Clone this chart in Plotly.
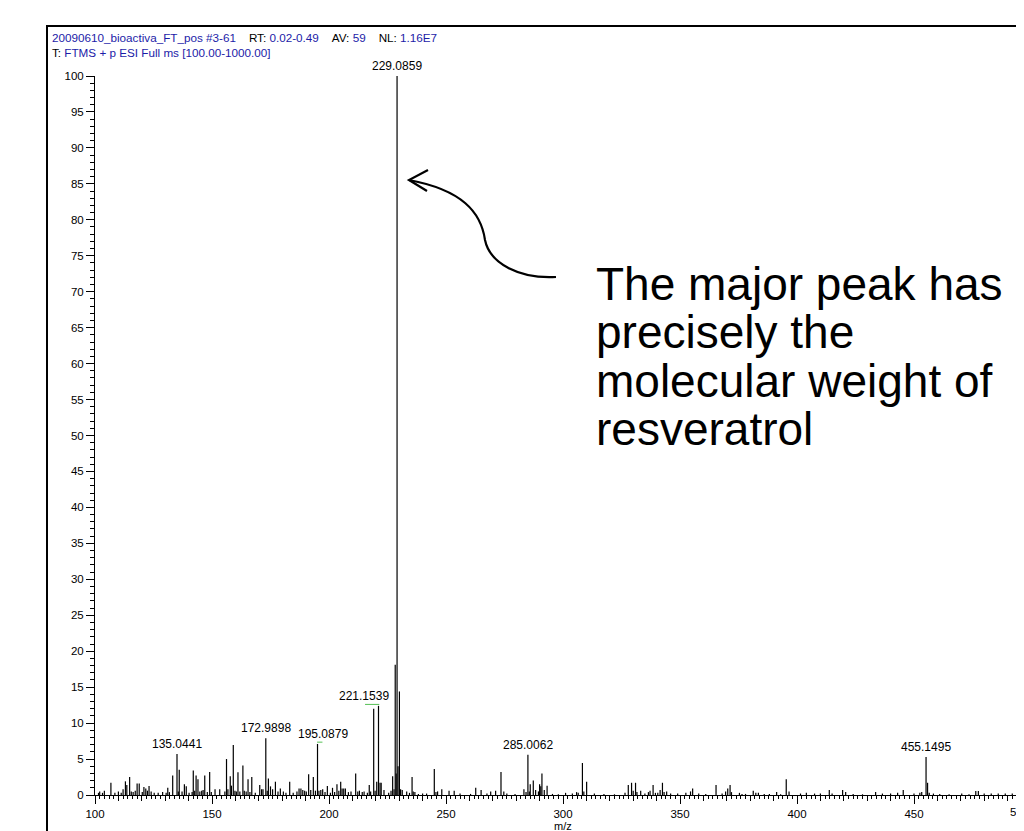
import plotly.graph_objects as go

# peak list (m/z, relative abundance %)
mz = [101.5, 102.0, 103.2, 104.0, 106.8, 108.5, 110.0, 111.2, 112.0, 113.0,
      113.6, 114.8, 115.5, 116.3, 117.2, 118.0, 118.9, 120.2, 120.9, 121.7,
      122.4, 123.1, 124.0, 125.3, 127.0, 128.9, 130.4, 131.1, 131.8, 133.2,
      135.0441, 135.6, 136.0, 137.2, 138.2, 139.0, 140.2, 141.5, 142.0, 142.6,
      143.2, 144.0, 144.8, 145.6, 146.2, 146.9, 148.0, 149.0, 149.7, 151.3,
      153.3, 155.5, 156.2, 156.8, 157.8, 158.3, 159.1, 159.8, 160.4, 161.1,
      161.9, 163.2, 163.8, 164.6, 165.4, 166.2, 167.0, 168.5, 170.4, 171.2,
      171.8, 172.9898, 173.6, 174.1, 175.0, 175.9, 177.1, 178.2, 179.2, 180.5,
      181.6, 183.2, 184.7, 186.3, 187.2, 188.0, 188.8, 189.6, 190.3, 191.3,
      192.2, 193.3, 194.2, 195.0879, 195.7, 196.5, 197.3, 198.3, 199.3, 200.6,
      201.5, 202.4, 203.4, 204.2, 205.0, 205.6, 206.3, 207.0, 208.3, 209.4,
      211.4, 212.3, 213.0, 214.2, 215.0, 216.4, 217.2, 217.8, 219.1, 219.7,
      220.4, 221.1539, 221.8, 222.3, 223.5, 225.5, 226.5, 227.2, 227.8, 228.3,
      228.7, 229.0859, 229.5, 230.1, 230.6, 231.3, 233.2, 234.4, 235.5, 236.0,
      236.7, 238.2, 240.0, 241.7, 245.0, 245.7, 246.4, 248.2, 251.3, 253.5,
      256.0, 260.5, 262.7, 265.0, 267.5, 269.1, 271.2, 273.5, 274.7, 276.0,
      279.5, 283.3, 284.2, 285.0062, 285.6, 286.0, 287.3, 288.3, 289.5, 290.0,
      290.5, 291.0, 292.0, 293.2, 295.5, 298.0, 301.1, 304.0, 305.8, 306.5,
      308.3, 308.9, 310.1, 313.4, 317.5, 322.0, 326.5, 327.9, 329.3, 330.0,
      331.0, 331.6, 333.2, 335.0, 336.5, 337.2, 338.5, 339.5, 340.5, 341.5,
      342.5, 343.2, 344.3, 346.0, 349.0, 352.5, 354.5, 355.4, 358.0, 361.0,
      365.4, 368.0, 369.5, 370.4, 371.4, 372.0, 375.4, 376.5, 378.0, 381.3,
      382.4, 383.5, 386.0, 388.2, 391.3, 393.0, 395.4, 396.6, 401.5, 404.0,
      407.5, 410.0, 413.8, 415.0, 419.5, 420.8, 424.0, 428.0, 433.6, 436.5,
      440.0, 443.0, 445.4, 450.0, 452.5, 453.3, 455.1495, 455.8, 456.5, 458.3,
      461.0, 465.0, 470.4, 473.5, 476.4, 477.5, 480.0, 483.0, 486.0, 489.0,
      492.0, 495.3]
intensity = [0.3, 0.5, 0.3, 0.6, 1.7, 0.3, 0.5, 0.3, 0.8, 1.9,
             1.4, 2.5, 0.5, 0.4, 0.6, 1.6, 1.6, 0.4, 1.1, 0.9,
             0.6, 1.25, 0.5, 0.3, 0.3, 0.4, 0.3, 1.0, 0.4, 2.7,
             5.7, 0.5, 3.5, 0.5, 1.5, 1.2, 0.3, 0.4, 3.4, 0.6,
             2.7, 2.2, 0.5, 0.6, 0.7, 2.7, 0.4, 3.2, 0.4, 0.8,
             0.8, 0.5, 5.0, 0.8, 2.6, 1.3, 6.95, 0.6, 0.5, 3.15,
             0.5, 4.1, 0.6, 0.5, 2.2, 0.4, 2.5, 0.3, 1.4, 0.8,
             0.8, 7.9, 0.6, 2.3, 1.2, 0.8, 1.85, 0.5, 0.9, 0.5,
             0.3, 1.85, 0.3, 0.5, 0.9, 0.9, 0.7, 0.6, 0.5, 2.9,
             0.7, 2.5, 0.6, 7.1, 0.6, 0.7, 0.8, 0.4, 1.25, 0.3,
             1.0, 0.4, 1.5, 0.6, 1.85, 0.9, 0.9, 0.9, 0.4, 0.5,
             3.0, 0.5, 0.6, 0.4, 0.5, 0.3, 1.4, 0.5, 12.0, 0.6,
             1.85, 12.4, 1.7, 1.7, 0.7, 0.3, 0.6, 2.6, 0.8, 18.1,
             3.0, 100.0, 4.0, 14.4, 0.8, 0.7, 0.5, 0.3, 2.5, 0.5,
             0.4, 0.15, 0.2, 0.2, 3.6, 0.4, 0.5, 0.8, 0.6, 0.6,
             0.2, 0.15, 1.0, 0.7, 0.2, 0.5, 0.6, 3.2, 0.5, 0.2,
             0.15, 0.8, 0.4, 5.6, 0.5, 1.5, 2.0, 0.7, 0.5, 1.5,
             1.2, 3.0, 0.7, 1.3, 0.15, 0.1, 0.3, 0.2, 0.4, 0.3,
             4.45, 0.5, 1.85, 0.2, 0.15, 0.1, 0.3, 1.4, 1.7, 0.6,
             1.7, 0.4, 0.6, 0.2, 0.4, 0.6, 1.4, 0.3, 0.3, 0.7,
             1.7, 0.4, 0.5, 0.2, 0.2, 0.3, 0.5, 0.9, 0.2, 0.15,
             1.4, 0.2, 0.5, 0.9, 1.4, 0.4, 0.3, 0.15, 0.15, 0.6,
             0.3, 0.3, 0.15, 0.15, 0.4, 0.1, 2.2, 0.5, 0.2, 0.3,
             0.2, 0.2, 0.7, 0.2, 0.7, 0.4, 0.15, 0.1, 0.4, 0.2,
             0.2, 0.3, 0.7, 0.2, 0.3, 0.4, 5.3, 1.7, 0.3, 0.2,
             0.15, 0.1, 0.2, 0.1, 0.55, 0.55, 0.2, 0.2, 0.2, 0.2,
             0.2, 0.7]

# labelled peaks
label_mz = [135.0441, 172.9898, 195.0879, 221.1539, 229.0859, 285.0062, 455.1495]
label_int = [5.7, 7.9, 7.1, 12.4, 100.0, 5.6, 5.3]

header_1 = ("20090610_bioactiva_FT_pos #3-61", "0.02-0.49", "59", "1.16E7")
header_2 = "FTMS + p ESI Full ms [100.00-1000.00]"
note_lines = ["The major peak has", "precisely the", "molecular weight of", "resveratrol"]

# layout geometry; page coordinates are shifted by the 8px body margin
OFF = 8
W, H = 1024 - OFF, 831 - OFF
L, T, B = 95 - OFF, 76 - OFF, 795 - OFF
PW, PH = W - L, B - T
PX_PER_MZ = 2.34
FONT = "Liberation Sans, Arial, sans-serif"
BLUE = "#1c1ca8"


def px(x):
    return (x - OFF - L) / PW


def py(y):
    return (B - (y - OFF)) / PH


# sticks
sx, sy = [], []
for m, i in zip(mz, intensity):
    sx += [m, m, None]
    sy += [0, i, None]

fig = go.Figure()
fig.add_trace(go.Scatter(x=sx, y=sy, mode='lines', line=dict(color='black', width=1.2),
                         hoverinfo='skip', showlegend=False))
# helper trace so the fine tick axis is drawn
fig.add_trace(go.Scatter(x=[label_mz[0]], y=[0], xaxis='x2', mode='markers',
                         marker=dict(opacity=0), hoverinfo='skip', showlegend=False))

xmax = 100 + PW / PX_PER_MZ
label_xshift = {195.0879: 5, 221.1539: -15}
for m, i in zip(label_mz, label_int):
    fig.add_annotation(x=m, y=i, xref='x', yref='y', text=f"{m:.4f}", showarrow=False,
                       yanchor='bottom', yshift=1, xshift=label_xshift.get(m, 0),
                       font=dict(family=FONT, size=12, color='black'))
# "500" tick label, only partly on the page
fig.add_annotation(x=(500 - 100) * PX_PER_MZ / PW, y=0, xref='paper', yref='paper',
                   text="500", showarrow=False, yanchor='top', yshift=-9,
                   font=dict(family=FONT, size=11.5, color='black'))

# green label marks
fig.add_shape(type='line', xref='x', yref='y', x0=194.9, x1=197.2, y0=7.35, y1=7.35,
              line=dict(color='#55c055', width=1))
fig.add_shape(type='line', xref='x', yref='y', x0=215.4, x1=221.5, y0=12.6, y1=12.6,
              line=dict(color='#55c055', width=1))

# header
def blue(s):
    return f"<span style='color:{BLUE}'>{s}</span>"

sp = "&nbsp;&nbsp;&nbsp;&nbsp;"
line1 = (blue(header_1[0]) + sp + "RT: " + blue(header_1[1]) + sp + "AV: " +
         blue(header_1[2]) + sp + "NL: " + blue(header_1[3]))
line2 = "T: " + blue(header_2)
for txt, yy in [(line1, 38), (line2, 52)]:
    fig.add_annotation(x=px(50), y=py(yy), xref='paper', yref='paper', text=txt,
                       showarrow=False, xanchor='left', yanchor='middle',
                       font=dict(family=FONT, size=11.7, color='black'))

# x axis title
fig.add_annotation(x=300, y=py(826), xref='x', yref='paper', text="m/z", showarrow=False,
                   yanchor='middle', font=dict(family=FONT, size=11, color='black'))

# note text
for txt, yy in zip(note_lines, [284, 332, 381, 429]):
    fig.add_annotation(x=px(594), y=py(yy), xref='paper', yref='paper', text=txt,
                       showarrow=False, xanchor='left', yanchor='middle',
                       font=dict(family=FONT, size=46, color='black'))


# curved arrow
def path(cmds):
    out = []
    for c, pts in cmds:
        out.append(c + " " + " ".join(f"{px(a):.5f},{py(b):.5f}" for a, b in pts))
    return " ".join(out)

fig.add_shape(type='path', xref='paper', yref='paper',
              path=path([("M", [(556, 277)]),
                         ("C", [(520, 279), (490, 264), (485, 240)]),
                         ("C", [(481, 212), (462, 190), (409, 180)])]),
              line=dict(color='black', width=2.2))
fig.add_shape(type='path', xref='paper', yref='paper',
              path=path([("M", [(428, 170)]), ("L", [(409, 180)]), ("L", [(427, 191)])]),
              line=dict(color='black', width=2.2))

# frame
fig.add_shape(type='rect', xref='paper', yref='paper', x0=px(47), x1=px(1040),
              y0=py(845), y1=py(26), line=dict(color='black', width=2))

axis_common = dict(showgrid=False, zeroline=False, ticks='outside', tickcolor='black',
                   tickfont=dict(family=FONT, size=11.5, color='black'))

fig.update_layout(
    width=W, height=H,
    margin=dict(l=L, r=0, t=T, b=H - B),
    paper_bgcolor='white', plot_bgcolor='white',
    showlegend=False,
    xaxis=dict(range=[100, xmax], tickmode='linear', tick0=100, dtick=50, ticklen=8,
               showline=True, linecolor='black', linewidth=1,
               minor=dict(tickmode='linear', tick0=100, dtick=10, ticklen=5,
                          ticks='outside', tickcolor='black', showgrid=False),
               **axis_common),
    xaxis2=dict(range=[100, xmax], matches='x', overlaying='x', anchor='y', side='bottom',
                tickmode='linear', tick0=100, dtick=2, ticklen=3, showticklabels=False,
                showline=False, showgrid=False, zeroline=False, ticks='outside',
                tickcolor='black'),
    yaxis=dict(range=[0, 100], tickmode='linear', tick0=0, dtick=5, ticklen=8,
               showline=True, linecolor='black', linewidth=1,
               minor=dict(tickmode='linear', tick0=0, dtick=1, ticklen=4,
                          ticks='outside', tickcolor='black', showgrid=False),
               **axis_common),
)

fig.write_html("out.html")
